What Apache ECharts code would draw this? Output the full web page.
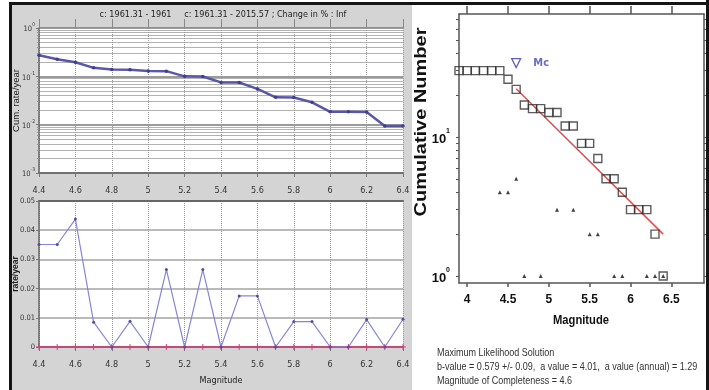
<!DOCTYPE html>
<html><head><meta charset="utf-8">
<script src="https://cdn.jsdelivr.net/npm/echarts@6/dist/echarts.min.js"></script>
<style>html,body{margin:0;padding:0;background:#fff}#c{width:709px;height:390px}</style>
</head><body><div id="c"></div>
<script>
// ---- Left panel data (ZMAP rate comparison) ----
const leftMags = [4.4,4.5,4.6,4.7,4.8,4.9,5.0,5.1,5.2,5.3,5.4,5.5,5.6,5.7,5.8,5.9,6.0,6.1,6.2,6.3,6.4];
const cumRate  = [0.272,0.226,0.196,0.150,0.138,0.137,0.129,0.128,0.100,0.099,0.0748,0.0745,0.055,0.0368,0.0366,0.029,0.0184,0.0184,0.0183,0.0094,0.0094];
const rateYear = [0.0351,0.0351,0.0438,0.0085,0,0.0088,0,0.0265,0,0.0265,0,0.0175,0.0175,0,0.0087,0.0087,0,0,0.0094,0,0.0095];
const zeroRate = [0,0,0,0,0,0,0,0,0,0,0,0,0,0,0,0,0,0,0,0,0];
const topTitle = 'c: 1961.31 - 1961     c: 1961.31 - 2015.57 ; Change in % : Inf';

// ---- Right panel data (frequency-magnitude distribution) ----
const cumMags = [3.9,4.0,4.1,4.2,4.3,4.4,4.5,4.6,4.7,4.8,4.9,5.0,5.1,5.2,5.3,5.4,5.5,5.6,5.7,5.8,5.9,6.0,6.1,6.2,6.3,6.4];
const cumNumber = [30,30,30,30,30,30,26,22,17,16,16,15,15,12,12,9,9,7,5,5,4,3,3,3,2,1];
const nonCumMags = [4.4,4.5,4.6,4.7,4.9,5.1,5.3,5.5,5.6,5.8,5.9,6.2,6.3,6.4];
const nonCumNumber = [4,4,5,1,1,3,3,2,2,1,1,1,1,1];
const fitMags = [4.6,6.4];
const fitNumber = [22.2,2.0];
const mcMag = [4.6];
const mcNumber = [34];
const rightXTicks = [4,4.5,5,5.5,6,6.5];
const rightYLabels = [1,10];
const rightYTicks = [1,2,3,4,5,6,7,8,9,10,20,30,40,50,60,70];
const infoLines = [
  'Maximum Likelihood Solution',
  'b-value = 0.579 +/- 0.09,  a value = 4.01,  a value (annual) = 1.29',
  'Magnitude of Completeness = 4.6'
];

const NARROW = "'Liberation Sans Narrow','DejaVu Sans Condensed',sans-serif";
const SANS = "'Liberation Sans',Arial,sans-serif";
const pair = (xs, ys) => xs.map((x, i) => [x, ys[i]]);
const fmtX = v => String(+v.toFixed(1));
const pow10 = v => '{b|10}{s|' + Math.round(Math.log10(v)) + '}';

const chart = echarts.init(document.getElementById('c'), null, {renderer: 'canvas'});
const leftX = (gi, withLabels, name) => ({
  type: 'value', gridIndex: gi, min: 4.4, max: 6.4, interval: 0.2,
  axisLine: {show: true, lineStyle: {color: '#666', width: 1.5}},
  axisTick: {show: true, inside: false, length: 4, lineStyle: {color: '#777'}},
  axisLabel: {show: withLabels, margin: 13, fontSize: 9, fontFamily: NARROW, color: '#333', formatter: fmtX},
  splitLine: {show: true, lineStyle: {color: '#999', type: 'dotted', width: 1}},
  name: name || '', nameLocation: 'middle', nameGap: 29, nameMoveOverlap: false,
  nameTextStyle: {fontSize: 9, fontFamily: NARROW, color: '#222'}
});
const gridBase = {show: true, backgroundColor: '#fff', borderWidth: 0, containLabel: false, outerBoundsMode: 'none'};

const option = {
  backgroundColor: '#fff',
  animation: false,
  grid: [
    Object.assign({left: 39, top: 28, width: 364, height: 145}, gridBase),
    Object.assign({left: 39, top: 201, width: 364, height: 146}, gridBase),
    Object.assign({left: 459, top: 14, width: 245, height: 269}, gridBase)
  ],
  xAxis: [
    leftX(0, true),
    {type: 'value', gridIndex: 0, position: 'top', min: 4.4, max: 6.4, interval: 0.2,
     axisLine: {show: false}, axisTick: {show: true, length: 9, lineStyle: {color: '#888'}},
     axisLabel: {show: false}, splitLine: {show: false}},
    leftX(1, true, 'Magnitude'),
    {type: 'value', gridIndex: 1, position: 'top', min: 4.4, max: 6.4, interval: 0.2,
     axisLine: {show: true, lineStyle: {color: '#666', width: 2}}, axisTick: {show: false},
     axisLabel: {show: false}, splitLine: {show: false}},
    {type: 'value', gridIndex: 2, min: 3.9, max: 6.9,
     axisLine: {show: true, lineStyle: {color: '#555', width: 1.5}},
     axisTick: {show: true, length: 4, customValues: rightXTicks, lineStyle: {color: '#555', width: 1.5}},
     axisLabel: {show: true, customValues: rightXTicks, margin: 11, fontSize: 12, fontWeight: 'bold', fontFamily: SANS, color: '#111', formatter: fmtX},
     splitLine: {show: false}},
    {type: 'value', gridIndex: 2, position: 'top', min: 3.9, max: 6.9,
     axisLine: {show: true, lineStyle: {color: '#555', width: 1.5}},
     axisTick: {show: true, length: 8, customValues: rightXTicks, lineStyle: {color: '#555', width: 1.5}},
     axisLabel: {show: false}, splitLine: {show: false}}
  ],
  yAxis: [
    {type: 'log', gridIndex: 0, logBase: 10, min: 0.001, max: 1,
     axisLine: {show: true, lineStyle: {color: '#666', width: 1.5}},
     axisTick: {show: true, length: 3, lineStyle: {color: '#777'}},
     minorTick: {show: true, splitNumber: 9, length: 2, lineStyle: {color: '#999'}},
     minorSplitLine: {show: true, lineStyle: {color: '#b2b2b2', width: 1}},
     splitLine: {show: true, lineStyle: {color: '#7a7a7a', width: 1.6}},
     axisLabel: {margin: 4, formatter: pow10, rich: {
       b: {fontSize: 7.5, fontFamily: NARROW, color: '#333', lineHeight: 11, verticalAlign: 'bottom'},
       s: {fontSize: 5, fontFamily: NARROW, color: '#333', lineHeight: 11, verticalAlign: 'top'}}},
     name: 'Cum. rate/year', nameLocation: 'middle', nameGap: 18, nameMoveOverlap: false,
     nameTextStyle: {fontSize: 9.5, fontFamily: SANS, color: '#222'}},
    {type: 'value', gridIndex: 1, min: 0, max: 0.05, interval: 0.01,
     axisLine: {show: true, lineStyle: {color: '#666', width: 1.5}},
     axisTick: {show: true, length: 3, lineStyle: {color: '#777'}},
     splitLine: {show: true, lineStyle: {color: '#a3a3a3', width: 1.5}},
     axisLabel: {margin: 4, fontSize: 7.5, fontFamily: NARROW, color: '#333', formatter: v => v === 0 ? '0' : v.toFixed(2)},
     name: 'rate/year', nameLocation: 'middle', nameGap: 19, nameMoveOverlap: false,
     nameTextStyle: {fontSize: 8.5, fontFamily: SANS, color: '#222', fontWeight: 'bold'}},
    {type: 'log', gridIndex: 2, logBase: 10, min: 0.89, max: 76.7,
     axisLine: {show: true, lineStyle: {color: '#555', width: 1.5}},
     axisTick: {show: true, length: 3, customValues: rightYTicks, lineStyle: {color: '#555'}},
     axisLabel: {show: true, customValues: rightYLabels, margin: 9, formatter: pow10, rich: {
       b: {fontSize: 13, fontWeight: 'bold', fontFamily: SANS, color: '#111', lineHeight: 18, verticalAlign: 'bottom'},
       s: {fontSize: 7, fontWeight: 'bold', fontFamily: SANS, color: '#111', lineHeight: 18, verticalAlign: 'top'}}},
     splitLine: {show: false}},
    {type: 'log', gridIndex: 2, logBase: 10, min: 0.89, max: 76.7, position: 'right',
     axisLine: {show: true, lineStyle: {color: '#555', width: 1.5}},
     axisTick: {show: true, length: 3, customValues: rightYTicks, lineStyle: {color: '#555'}},
     axisLabel: {show: false}, splitLine: {show: false}}
  ],
  series: [
    {type: 'line', xAxisIndex: 0, yAxisIndex: 0, data: pair(leftMags, cumRate),
     lineStyle: {color: '#5858a8', width: 2.5}, itemStyle: {color: '#3f3f90'},
     symbol: 'circle', symbolSize: 3.5, z: 5},
    {type: 'line', xAxisIndex: 2, yAxisIndex: 1, data: pair(leftMags, zeroRate),
     lineStyle: {color: '#d2407a', width: 1.5},
     symbol: 'path://M5,0L5,10M0,5L10,5', symbolSize: 6,
     itemStyle: {color: 'none', borderColor: '#d2407a', borderWidth: 1}, z: 4},
    {type: 'line', xAxisIndex: 2, yAxisIndex: 1, data: pair(leftMags, rateYear),
     lineStyle: {color: '#8686d8', width: 1.2}, itemStyle: {color: '#5a4a9a'},
     symbol: 'circle', symbolSize: 3, z: 5},
    {type: 'line', xAxisIndex: 4, yAxisIndex: 2, data: pair(fitMags, fitNumber),
     lineStyle: {color: '#e0504f', width: 1.5}, showSymbol: false, symbol: 'none', z: 3},
    {type: 'scatter', xAxisIndex: 4, yAxisIndex: 2, data: pair(cumMags, cumNumber),
     symbol: 'rect', symbolSize: 8,
     itemStyle: {color: 'rgba(255,255,255,0)', borderColor: '#333', borderWidth: 1.4}, z: 4},
    {type: 'scatter', xAxisIndex: 4, yAxisIndex: 2, data: pair(nonCumMags, nonCumNumber),
     symbol: 'triangle', symbolSize: 4, itemStyle: {color: '#111'}, z: 5},
    {type: 'scatter', xAxisIndex: 4, yAxisIndex: 2, data: pair(mcMag, mcNumber),
     symbol: 'triangle', symbolRotate: 180, symbolSize: 9,
     itemStyle: {color: 'rgba(255,255,255,0)', borderColor: '#3a3aa8', borderWidth: 1.3},
     label: {show: true, position: 'right', distance: 12, formatter: 'Mc', fontSize: 11,
       fontWeight: 'bold', fontFamily: NARROW, color: '#4646b0'}, z: 5}
  ],
  graphic: {elements: [
    {type: 'rect', z: -100, shape: {x: 12, y: 5, width: 400, height: 385}, style: {fill: '#d4d4d4'}},
    {type: 'rect', z: 100, shape: {x: 9, y: 2, width: 700, height: 3}, style: {fill: '#151515'}},
    {type: 'rect', z: 100, shape: {x: 9, y: 2, width: 3, height: 388}, style: {fill: '#151515'}},
    {type: 'rect', z: 100, shape: {x: 706, y: 0, width: 3, height: 390}, style: {fill: '#151515'}},
    {type: 'text', z: 100, x: 223, y: 15, style: {text: topTitle, fontSize: 9, fontFamily: NARROW, fill: '#222', align: 'center', verticalAlign: 'middle'}},
    {type: 'text', z: 100, x: 421, y: 122, rotation: Math.PI / 2, scaleY: 0.85,
     style: {text: 'Cumulative Number', fontSize: 20, fontWeight: 'bold', fontFamily: SANS, fill: '#111', align: 'center', verticalAlign: 'middle'}},
    {type: 'text', z: 100, x: 581, y: 320, scaleX: 0.83,
     style: {text: 'Magnitude', fontSize: 13.5, fontWeight: 'bold', fontFamily: SANS, fill: '#111', align: 'center', verticalAlign: 'middle'}},
    {type: 'text', z: 100, x: 437, y: 353, scaleX: 0.82, style: {text: infoLines[0], fontSize: 11, fontFamily: SANS, fill: '#333', align: 'left', verticalAlign: 'middle'}},
    {type: 'text', z: 100, x: 437, y: 367, scaleX: 0.82, style: {text: infoLines[1], fontSize: 11, fontFamily: SANS, fill: '#333', align: 'left', verticalAlign: 'middle'}},
    {type: 'text', z: 100, x: 437, y: 381, scaleX: 0.82, style: {text: infoLines[2], fontSize: 11, fontFamily: SANS, fill: '#333', align: 'left', verticalAlign: 'middle'}}
  ]}
};
chart.setOption(option);
</script>
</body></html>
